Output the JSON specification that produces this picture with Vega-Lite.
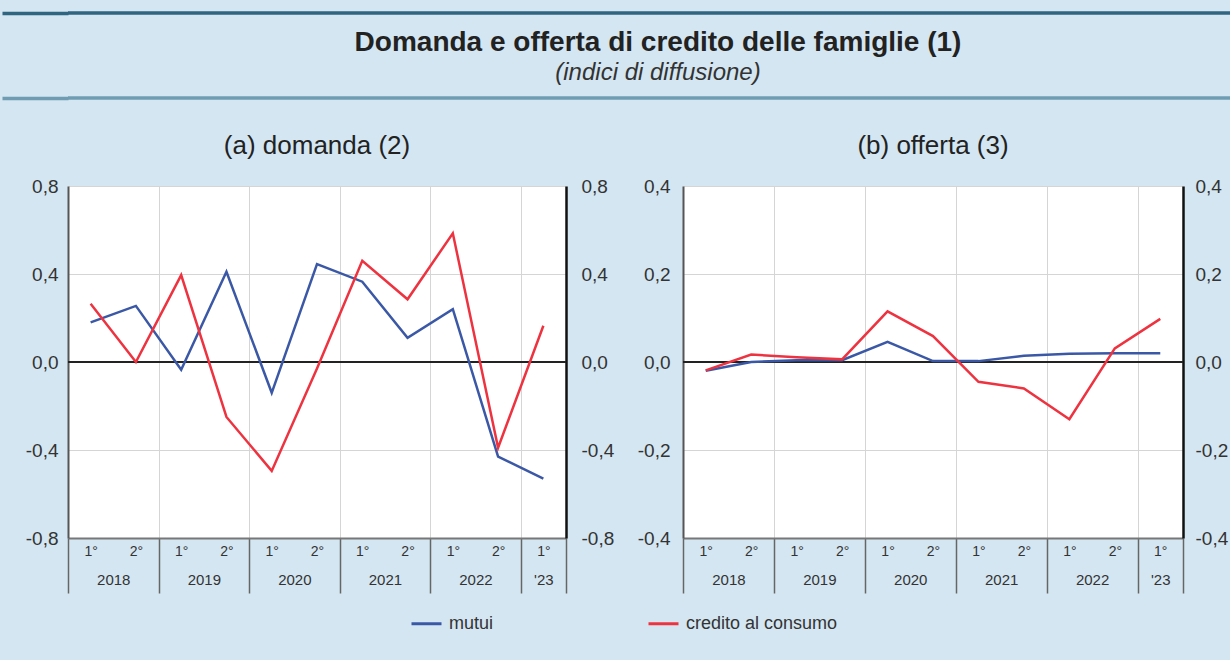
{
  "$schema": "https://vega.github.io/schema/vega-lite/v6.json",
  "background": "#d3e6f1",
  "padding": {"left": 0, "top": 11, "right": 0, "bottom": 40},
  "config": {
    "font": "Liberation Sans",
    "view": {"stroke": null},
    "axis": {"labelColor": "#333", "labelFontSize": 19, "labelFont": "Liberation Sans"},
    "title": {"font": "Liberation Sans", "color": "#222"}
  },
  "datasets": {
    "domanda": [
      {"i": 0, "semestre": "1°", "anno": "2018", "serie": "mutui", "valore": 0.18},
      {"i": 1, "semestre": "2°", "anno": "2018", "serie": "mutui", "valore": 0.255},
      {"i": 2, "semestre": "1°", "anno": "2019", "serie": "mutui", "valore": -0.035},
      {"i": 3, "semestre": "2°", "anno": "2019", "serie": "mutui", "valore": 0.41},
      {"i": 4, "semestre": "1°", "anno": "2020", "serie": "mutui", "valore": -0.14},
      {"i": 5, "semestre": "2°", "anno": "2020", "serie": "mutui", "valore": 0.445},
      {"i": 6, "semestre": "1°", "anno": "2021", "serie": "mutui", "valore": 0.365},
      {"i": 7, "semestre": "2°", "anno": "2021", "serie": "mutui", "valore": 0.11},
      {"i": 8, "semestre": "1°", "anno": "2022", "serie": "mutui", "valore": 0.24},
      {"i": 9, "semestre": "2°", "anno": "2022", "serie": "mutui", "valore": -0.43},
      {"i": 10, "semestre": "1°", "anno": "2023", "serie": "mutui", "valore": -0.53},
      {"i": 0, "semestre": "1°", "anno": "2018", "serie": "credito al consumo", "valore": 0.265},
      {"i": 1, "semestre": "2°", "anno": "2018", "serie": "credito al consumo", "valore": 0.0},
      {"i": 2, "semestre": "1°", "anno": "2019", "serie": "credito al consumo", "valore": 0.395},
      {"i": 3, "semestre": "2°", "anno": "2019", "serie": "credito al consumo", "valore": -0.25},
      {"i": 4, "semestre": "1°", "anno": "2020", "serie": "credito al consumo", "valore": -0.495},
      {"i": 5, "semestre": "2°", "anno": "2020", "serie": "credito al consumo", "valore": -0.03},
      {"i": 6, "semestre": "1°", "anno": "2021", "serie": "credito al consumo", "valore": 0.46},
      {"i": 7, "semestre": "2°", "anno": "2021", "serie": "credito al consumo", "valore": 0.285},
      {"i": 8, "semestre": "1°", "anno": "2022", "serie": "credito al consumo", "valore": 0.585},
      {"i": 9, "semestre": "2°", "anno": "2022", "serie": "credito al consumo", "valore": -0.39},
      {"i": 10, "semestre": "1°", "anno": "2023", "serie": "credito al consumo", "valore": 0.165}
    ],
    "offerta": [
      {"i": 0, "semestre": "1°", "anno": "2018", "serie": "mutui", "valore": -0.02},
      {"i": 1, "semestre": "2°", "anno": "2018", "serie": "mutui", "valore": 0.0},
      {"i": 2, "semestre": "1°", "anno": "2019", "serie": "mutui", "valore": 0.004},
      {"i": 3, "semestre": "2°", "anno": "2019", "serie": "mutui", "valore": 0.004},
      {"i": 4, "semestre": "1°", "anno": "2020", "serie": "mutui", "valore": 0.046},
      {"i": 5, "semestre": "2°", "anno": "2020", "serie": "mutui", "valore": 0.002},
      {"i": 6, "semestre": "1°", "anno": "2021", "serie": "mutui", "valore": 0.002},
      {"i": 7, "semestre": "2°", "anno": "2021", "serie": "mutui", "valore": 0.014},
      {"i": 8, "semestre": "1°", "anno": "2022", "serie": "mutui", "valore": 0.019},
      {"i": 9, "semestre": "2°", "anno": "2022", "serie": "mutui", "valore": 0.02},
      {"i": 10, "semestre": "1°", "anno": "2023", "serie": "mutui", "valore": 0.02},
      {"i": 0, "semestre": "1°", "anno": "2018", "serie": "credito al consumo", "valore": -0.019},
      {"i": 1, "semestre": "2°", "anno": "2018", "serie": "credito al consumo", "valore": 0.017},
      {"i": 2, "semestre": "1°", "anno": "2019", "serie": "credito al consumo", "valore": 0.011},
      {"i": 3, "semestre": "2°", "anno": "2019", "serie": "credito al consumo", "valore": 0.006},
      {"i": 4, "semestre": "1°", "anno": "2020", "serie": "credito al consumo", "valore": 0.115},
      {"i": 5, "semestre": "2°", "anno": "2020", "serie": "credito al consumo", "valore": 0.059},
      {"i": 6, "semestre": "1°", "anno": "2021", "serie": "credito al consumo", "valore": -0.045},
      {"i": 7, "semestre": "2°", "anno": "2021", "serie": "credito al consumo", "valore": -0.06},
      {"i": 8, "semestre": "1°", "anno": "2022", "serie": "credito al consumo", "valore": -0.13},
      {"i": 9, "semestre": "2°", "anno": "2022", "serie": "credito al consumo", "valore": 0.031},
      {"i": 10, "semestre": "1°", "anno": "2023", "serie": "credito al consumo", "valore": 0.098}
    ]
  },
  "spacing": 33,
  "vconcat": [
    {
      "width": 1164,
      "height": 85,
      "view": {"stroke": null},
      "data": {"values": [{}]},
      "title": {
        "text": "Domanda e offerta di credito delle famiglie (1)",
        "subtitle": "(indici di diffusione)",
        "fontSize": 28,
        "fontWeight": "bold",
        "subtitleFontSize": 24,
        "subtitleFontStyle": "italic",
        "subtitlePadding": 4,
        "subtitleColor": "#333",
        "offset": -74,
        "anchor": "middle",
        "dx": 8
      },
      "layer": [
        {"mark": {"type": "rule", "color": "#2f6580", "strokeWidth": 3.5},
         "encoding": {"y": {"datum": 1, "type": "quantitative", "scale": {"domain": [0, 1]},
           "axis": {"orient": "left", "values": [0, 1], "labels": false, "ticks": true, "tickSize": 66, "tickWidth": 3.5,
             "tickColor": {"condition": {"test": "datum.value == 1", "value": "#2f6580"}, "value": "#6f9cb2"},
             "domain": false, "grid": false, "title": null}}}},
        {"mark": {"type": "rule", "color": "#6f9cb2", "strokeWidth": 3.5},
         "encoding": {"y": {"datum": 0, "type": "quantitative",
           "axis": {"orient": "left", "values": [0, 1], "labels": false, "ticks": true, "tickSize": 66, "tickWidth": 3.5,
             "tickColor": {"condition": {"test": "datum.value == 1", "value": "#2f6580"}, "value": "#6f9cb2"},
             "domain": false, "grid": false, "title": null}}}}
      ]
    },
    {
      "spacing": 23,
      "hconcat": [
        {
          "width": 498,
          "height": 352,
          "title": {"text": "(a) domanda (2)", "frame": "group", "offset": 18, "fontSize": 26, "fontWeight": "normal"},
          "view": {"fill": "white", "stroke": null},
          "data": {"name": "domanda"},
          "resolve": {"axis": {"x": "independent", "y": "independent"}},
          "layer": [
            {
              "data": {"values": [{}]},
              "mark": {"type": "rule", "color": "#222", "strokeWidth": 2.2},
              "encoding": {"y": {"datum": 0, "type": "quantitative", "scale": {"domain": [-0.8, 0.8], "nice": false}, "axis": null}}
            },
            {
              "mark": {"type": "line", "strokeWidth": 2.5},
              "encoding": {
                "x": {"field": "i", "type": "quantitative", "scale": {"domain": [-0.5, 10.5], "nice": false, "zero": false},
                  "axis": {"orient": "bottom", "values": [0, 1, 2, 3, 4, 5, 6, 7, 8, 9, 10], "labelExpr": "datum.value % 2 == 0 ? '1°' : '2°'", "ticks": false, "domain": false, "grid": false, "labelPadding": 6, "labelFontSize": 14, "labelFlush": false, "title": null}},
                "y": {"field": "valore", "type": "quantitative", "scale": {"domain": [-0.8, 0.8], "nice": false},
                  "axis": {"orient": "left", "values": [-0.8, -0.4, 0, 0.4, 0.8], "labelExpr": "replace(replace(format(datum.value, '.1f'), '.', ','), '−', '-')", "ticks": false, "domain": true, "domainColor": "#555", "domainWidth": 2, "grid": true, "gridColor": "#d5d5d5", "labelPadding": 10, "title": " ", "titlePadding": 20, "titleFontSize": 1}},
                "color": {"field": "serie", "type": "nominal", "scale": {"domain": ["mutui", "credito al consumo"], "range": ["#3a58a6", "#ee3340"]},
                  "legend": {"title": null, "orient": "none", "legendX": 342, "legendY": 594, "direction": "horizontal", "symbolType": "stroke", "symbolStrokeWidth": 3, "symbolSize": 900, "labelFontSize": 18, "columnPadding": 148, "labelOffset": 6, "labelColor": "#333"}}
              }
            },
            {
              "mark": {"type": "point", "opacity": 0},
              "encoding": {
                "x": {"field": "i", "type": "quantitative",
                  "axis": {"orient": "bottom", "values": [-0.5, 1.5, 3.5, 5.5, 7.5, 9.5, 10.5], "labels": false, "ticks": true, "tickSize": 55, "tickColor": "#666", "tickWidth": 1.5, "grid": true, "gridColor": "#d5d5d5", "domain": true, "domainColor": "#777", "domainWidth": 2, "title": null}},
                "y": {"field": "valore", "type": "quantitative",
                  "axis": {"orient": "right", "values": [-0.8, -0.4, 0, 0.4, 0.8], "labelExpr": "replace(replace(format(datum.value, '.1f'), '.', ','), '−', '-')", "ticks": false, "domain": true, "domainColor": "#111", "domainWidth": 2.5, "grid": false, "labelPadding": 15, "title": null}}
              }
            },
            {
              "mark": {"type": "point", "opacity": 0},
              "encoding": {
                "x": {"field": "i", "type": "quantitative",
                  "axis": {"orient": "bottom", "values": [0.5, 2.5, 4.5, 6.5, 8.5, 10], "labelExpr": "datum.value == 10 ? \"'23\" : toString(2018 + floor(datum.value / 2))", "ticks": false, "domain": false, "grid": false, "labelPadding": 34, "labelFontSize": 15, "labelFlush": false, "title": null}},
                "y": {"field": "valore", "type": "quantitative", "axis": null}
              }
            }
          ]
        },
        {
          "width": 500,
          "height": 352,
          "title": {"text": "(b) offerta (3)", "frame": "group", "offset": 18, "fontSize": 26, "fontWeight": "normal"},
          "view": {"fill": "white", "stroke": null},
          "data": {"name": "offerta"},
          "resolve": {"axis": {"x": "independent", "y": "independent"}},
          "layer": [
            {
              "data": {"values": [{}]},
              "mark": {"type": "rule", "color": "#222", "strokeWidth": 2.2},
              "encoding": {"y": {"datum": 0, "type": "quantitative", "scale": {"domain": [-0.4, 0.4], "nice": false}, "axis": null}}
            },
            {
              "mark": {"type": "line", "strokeWidth": 2.5},
              "encoding": {
                "x": {"field": "i", "type": "quantitative", "scale": {"domain": [-0.5, 10.5], "nice": false, "zero": false},
                  "axis": {"orient": "bottom", "values": [0, 1, 2, 3, 4, 5, 6, 7, 8, 9, 10], "labelExpr": "datum.value % 2 == 0 ? '1°' : '2°'", "ticks": false, "domain": false, "grid": false, "labelPadding": 6, "labelFontSize": 14, "labelFlush": false, "title": null}},
                "y": {"field": "valore", "type": "quantitative", "scale": {"domain": [-0.4, 0.4], "nice": false},
                  "axis": {"orient": "left", "values": [-0.4, -0.2, 0, 0.2, 0.4], "labelExpr": "replace(replace(format(datum.value, '.1f'), '.', ','), '−', '-')", "ticks": false, "domain": true, "domainColor": "#555", "domainWidth": 2, "grid": true, "gridColor": "#d5d5d5", "labelPadding": 13, "title": null}},
                "color": {"field": "serie", "type": "nominal", "scale": {"domain": ["mutui", "credito al consumo"], "range": ["#3a58a6", "#ee3340"]},
                  "legend": {"title": null, "orient": "none", "legendX": 342, "legendY": 594, "direction": "horizontal", "symbolType": "stroke", "symbolStrokeWidth": 3, "symbolSize": 900, "labelFontSize": 18, "columnPadding": 148, "labelOffset": 6, "labelColor": "#333"}}
              }
            },
            {
              "mark": {"type": "point", "opacity": 0},
              "encoding": {
                "x": {"field": "i", "type": "quantitative",
                  "axis": {"orient": "bottom", "values": [-0.5, 1.5, 3.5, 5.5, 7.5, 9.5, 10.5], "labels": false, "ticks": true, "tickSize": 55, "tickColor": "#666", "tickWidth": 1.5, "grid": true, "gridColor": "#d5d5d5", "domain": true, "domainColor": "#777", "domainWidth": 2, "title": null}},
                "y": {"field": "valore", "type": "quantitative",
                  "axis": {"orient": "right", "values": [-0.4, -0.2, 0, 0.2, 0.4], "labelExpr": "replace(replace(format(datum.value, '.1f'), '.', ','), '−', '-')", "ticks": false, "domain": true, "domainColor": "#111", "domainWidth": 2.5, "grid": false, "labelPadding": 12, "title": null}}
              }
            },
            {
              "mark": {"type": "point", "opacity": 0},
              "encoding": {
                "x": {"field": "i", "type": "quantitative",
                  "axis": {"orient": "bottom", "values": [0.5, 2.5, 4.5, 6.5, 8.5, 10], "labelExpr": "datum.value == 10 ? \"'23\" : toString(2018 + floor(datum.value / 2))", "ticks": false, "domain": false, "grid": false, "labelPadding": 34, "labelFontSize": 15, "labelFlush": false, "title": null}},
                "y": {"field": "valore", "type": "quantitative", "axis": null}
              }
            }
          ]
        }
      ]
    }
  ]
}
